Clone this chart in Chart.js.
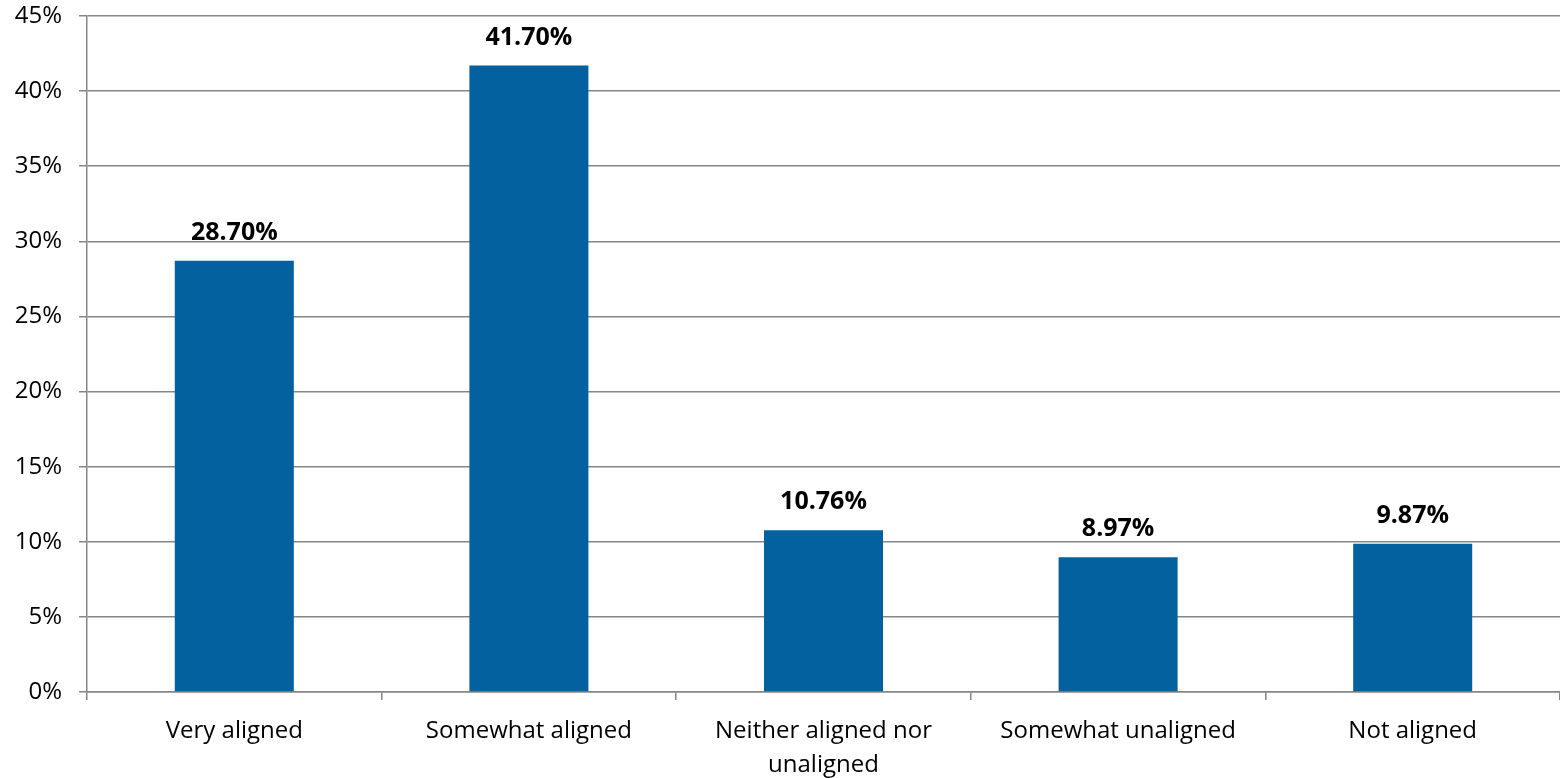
<!DOCTYPE html>
<html>
<head>
<meta charset="utf-8">
<script src="https://cdn.jsdelivr.net/npm/chart.js@4/dist/chart.umd.min.js"></script>
<style>
  html, body { margin: 0; padding: 0; background: #fff; }
  #wrap { width: 1560px; height: 778px; }
</style>
</head>
<body>
<div id="wrap"><canvas id="c" width="1560" height="778"></canvas></div>
<script>
const categories = [
  "Very aligned",
  "Somewhat aligned",
  ["Neither aligned nor", "unaligned"],
  "Somewhat unaligned",
  "Not aligned"
];
const values = [28.70, 41.70, 10.76, 8.97, 9.87];
const valueLabels = ["28.70%", "41.70%", "10.76%", "8.97%", "9.87%"];
const yTicks = [0, 5, 10, 15, 20, 25, 30, 35, 40, 45];

const FONT = "'Open Sans', 'DejaVu Sans', sans-serif";
const GRID = "#868686";

const labelPlugin = {
  id: "valueLabels",
  afterDatasetsDraw(chart) {
    const ctx = chart.ctx;
    const meta = chart.getDatasetMeta(0);
    ctx.save();
    ctx.font = "bold 25px " + FONT;
    ctx.fillStyle = "#000";
    ctx.textAlign = "center";
    ctx.textBaseline = "alphabetic";
    meta.data.forEach((bar, i) => {
      ctx.fillText(valueLabels[i], bar.x, bar.y - 21);
    });
    ctx.restore();
  }
};

new Chart(document.getElementById("c"), {
  type: "bar",
  data: {
    labels: categories,
    datasets: [{
      data: values,
      backgroundColor: "#03619F",
      borderWidth: 0,
      categoryPercentage: 1.0,
      barPercentage: 0.404
    }]
  },
  options: {
    responsive: false,
    animation: false,
    devicePixelRatio: 1,
    layout: { padding: { top: 16, right: 0, left: 0, bottom: 0 } },
    plugins: { legend: { display: false }, tooltip: { enabled: false } },
    scales: {
      x: {
        afterFit(s) { s.height = 86; s.paddingLeft = 0; s.paddingRight = 0; },
        grid: {
          display: true,
          drawOnChartArea: false,
          drawTicks: true,
          tickLength: 8,
          offset: true,
          color: GRID,
          lineWidth: 1.5
        },
        border: { display: true, color: GRID, width: 1.5 },
        ticks: {
          color: "#000",
          font: { family: FONT, size: 24, lineHeight: 1.42 },
          padding: 14,
          maxRotation: 0,
          autoSkip: false
        }
      },
      y: {
        min: 0,
        max: 45,
        afterFit(s) { s.width = 87; s.paddingTop = 0; s.paddingBottom = 0; },
        afterBuildTicks(s) { s.ticks = yTicks.map(v => ({ value: v })); },
        grid: {
          color: GRID,
          lineWidth: 1.5,
          tickLength: 8,
          drawTicks: true
        },
        border: { display: true, color: GRID, width: 1.5 },
        ticks: {
          color: "#000",
          font: { family: FONT, size: 24 },
          padding: 17,
          callback: (v) => v + "%"
        }
      }
    }
  },
  plugins: [labelPlugin]
});
</script>
</body>
</html>
